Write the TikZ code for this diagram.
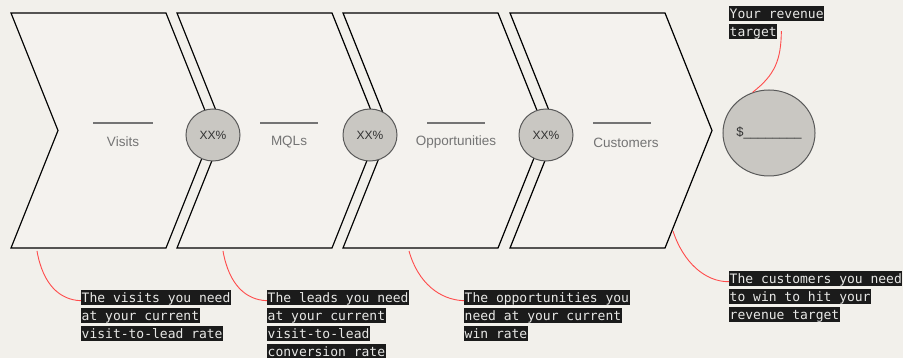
\documentclass[tikz,border=0pt]{standalone}
\usepackage{fontspec}
\setmainfont{Liberation Sans}
\newfontfamily\monofont{DejaVu Sans Mono}
\usetikzlibrary{shapes.geometric,calc}
\definecolor{bgcol}{HTML}{F2F0EB}
\definecolor{chevfill}{HTML}{F4F2EE}
\definecolor{ratefill}{HTML}{C9C7C2}
\definecolor{labelgray}{HTML}{747474}
\definecolor{hlblack}{HTML}{1B1B1B}
\definecolor{hltext}{HTML}{E8E8E6}
\definecolor{leadred}{HTML}{FF4B4B}
\tikzset{
  chevron/.style={draw=black, line width=1.2pt, fill=chevfill, line join=miter},
  rate/.style={ellipse, draw=black!65, line width=1pt, fill=ratefill,
    minimum width=54pt, minimum height=52pt, inner sep=0pt,
    font=\fontsize{12}{14}\selectfont, text=black!80},
  goal/.style={ellipse, draw=black!65, line width=1pt, fill=ratefill,
    minimum width=88pt, minimum height=86pt, inner sep=0pt,
    font=\fontsize{13}{15}\selectfont, text=black!80},
  stage/.style={font=\fontsize{13.5}{16}\selectfont, text=labelgray, inner sep=0pt},
  uline/.style={draw=labelgray, line width=1.2pt},
  hl/.style={fill=hlblack, text=hltext, anchor=north west, inner xsep=0.5pt,
    inner ysep=0pt, text height=12.5pt, text depth=2.5pt,
    font=\monofont\fontsize{13}{15}\selectfont},
  lead/.style={draw=leadred, line width=0.9pt},
}
\begin{document}
\begin{tikzpicture}[x=1pt,y=-1pt]
\useasboundingbox (0,0) rectangle (903,358);
\fill[bgcol] (0,0) rectangle (903,358);

% funnel stages as chevrons
\foreach \x in {11,177,343,510}{
  \draw[chevron] (\x,13) -- ++(155,0) -- ++(47,117.5) -- ++(-47,117.5)
    -- ++(-155,0) -- ++(47,-117.5) -- cycle;
}

% stage names with blank lines above
\draw[uline] (93,123) -- (153,123);
\node[stage] (s1) at (123,142) {Visits};
\draw[uline] (260,123) -- (318,123);
\node[stage] (s2) at (289,142) {MQLs};
\draw[uline] (427,123) -- (485,123);
\node[stage] (s3) at (456,142) {Opportunities};
\draw[uline] (593,123) -- (651,123);
\node[stage] (s4) at (626,143) {Customers};

% conversion rates
\node[rate] (r1) at (213,135) {XX\%};
\node[rate] (r2) at (370,135) {XX\%};
\node[rate] (r3) at (546,135) {XX\%};

% revenue goal
\node[goal] (g) at (769,133) {\$\_\_\_\_\_\_\_\_};

% callouts
\node[hl] (c1a) at (81,290) {The visits you need};
\node[hl] (c1b) at ($(c1a.north west)+(0,18)$) {at your current};
\node[hl] (c1c) at ($(c1b.north west)+(0,18)$) {visit-to-lead rate};

\node[hl] (c2a) at (267,290) {The leads you need};
\node[hl] (c2b) at ($(c2a.north west)+(0,18)$) {at your current};
\node[hl] (c2c) at ($(c2b.north west)+(0,18)$) {visit-to-lead};
\node[hl] (c2d) at ($(c2c.north west)+(0,18)$) {conversion rate};

\node[hl] (c3a) at (464,290) {The opportunities you};
\node[hl] (c3b) at ($(c3a.north west)+(0,18)$) {need at your current};
\node[hl] (c3c) at ($(c3b.north west)+(0,18)$) {win rate};

\node[hl] (c4a) at (729,271) {The customers you need};
\node[hl] (c4b) at ($(c4a.north west)+(0,18)$) {to win to hit your};
\node[hl] (c4c) at ($(c4b.north west)+(0,18)$) {revenue target};

\node[hl] (t1) at (729,6) {Your revenue};
\node[hl] (t2) at ($(t1.north west)+(0,18)$) {target};

% leader lines
\coordinate (p1) at (37,251);
\coordinate (p2) at (223,251);
\coordinate (p3) at (409,251);
\coordinate (p4) at (673,231);
\draw[lead] (p1) .. controls (43,285) and (60,300) .. ([yshift=-3pt]c1a.west);
\draw[lead] (p2) .. controls (229,285) and (246,300) .. ([yshift=-3pt]c2a.west);
\draw[lead] (p3) .. controls (418,283) and (440,300) .. ([yshift=-3pt]c3a.west);
\draw[lead] (p4) .. controls (683,262) and (705,282) .. ([yshift=-3pt]c4a.west);
\draw[lead] ([xshift=4pt,yshift=0.5pt]t2.east) .. controls (781,60) and (775,75) .. (g.112);
\end{tikzpicture}
\end{document}
